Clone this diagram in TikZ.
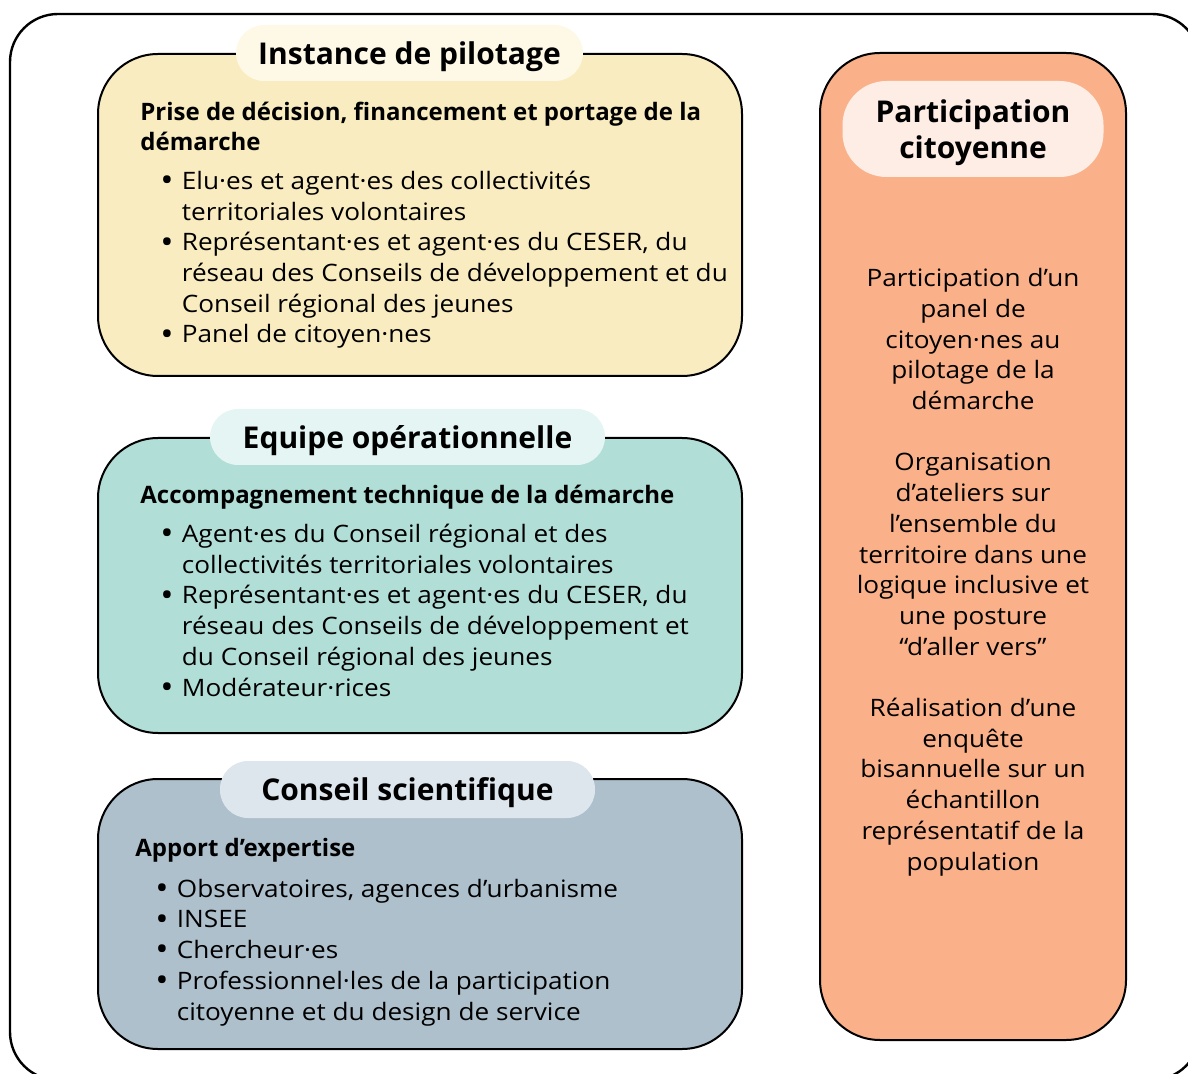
\documentclass[tikz,border=0pt]{standalone}
\usepackage{fontspec}
\setmainfont{Open Sans}[FakeStretch=1.09, BoldFeatures={FakeStretch=1.0}]
\usetikzlibrary{positioning}

\definecolor{pilotfond}{RGB}{249,236,192}
\definecolor{pilotclair}{RGB}{254,249,230}
\definecolor{equipefond}{RGB}{178,222,216}
\definecolor{equipeclair}{RGB}{228,245,244}
\definecolor{conseilfond}{RGB}{174,192,204}
\definecolor{conseilclair}{RGB}{221,230,237}
\definecolor{partfond}{RGB}{250,177,137}
\definecolor{partclair}{RGB}{253,237,229}

% puces faites main pour garder les coupures de lignes
\newcommand{\puce}{\hspace*{10pt}\makebox[10.75pt][l]{\raisebox{-1.1pt}{\scalebox{1.35}{\textbullet}}}}
\newcommand{\suite}{\hspace*{20.75pt}}

\tikzset{
  bloc/.style={draw=black, line width=1pt, rounded corners=30pt, inner sep=0pt},
  pastille/.style={rounded corners=14pt, inner sep=0pt, text depth=0pt, font=\bfseries\fontsize{15}{17.7}\selectfont},
  corps/.style={anchor=base west, align=left, inner sep=0pt, font=\fontsize{12}{15.35}\selectfont},
}

\begin{document}
\begin{tikzpicture}[x=0.5pt, y=-0.5pt]
 \useasboundingbox (0,0) rectangle (1188,1074);
 \draw[line width=1.2pt, rounded corners=24pt] (10,14) rectangle (1200,1080);

 % colonne de gauche
 \node[bloc, fill=pilotfond, minimum width=322pt, minimum height=161pt] (pilot) at (420,215) {};
 \node[bloc, fill=equipefond, minimum width=322pt, minimum height=147.5pt, below=30pt of pilot] (equipe) {};
 \node[bloc, fill=conseilfond, minimum width=322pt, minimum height=135pt, below=22pt of equipe] (conseil) {};
 % colonne de droite
 \node[bloc, fill=partfond, minimum width=153pt, minimum height=493.5pt] (part) at (973,546.5) {};

 \node[pastille, fill=pilotclair, minimum width=173.5pt, minimum height=28pt] (tpilot) at ([xshift=-5.25pt]pilot.north) {Instance de pilotage};
 \node[pastille, fill=equipeclair, minimum width=197.5pt, minimum height=28pt] (tequipe) at ([xshift=-6.25pt]equipe.north) {Equipe opérationnelle};
 \node[pastille, fill=conseilclair, minimum width=187.5pt, minimum height=28.5pt] (tconseil) at ([xshift=-6.25pt, yshift=-5.75pt]conseil.north) {Conseil scientifique};
 \node[pastille, fill=partclair, minimum width=130.5pt, minimum height=48pt, rounded corners=22pt, align=center] (tpart) at ([yshift=-38.5pt]part.north) {Participation\\citoyenne};

 % les noeuds de texte sont calés sur la ligne de base de leur derniere ligne
 \node[corps] (cpilot) at (140,343) {%
  \textbf{Prise de décision, financement et portage de la}\\
  \textbf{démarche}\\[4pt]
  \puce Elu·es et agent·es des collectivités\\
  \suite territoriales volontaires\\
  \puce Représentant·es et agent·es du CESER, du\\
  \suite réseau des Conseils de développement et du\\
  \suite Conseil régional des jeunes\\
  \puce Panel de citoyen·nes};

 \node[corps] (cequipe) at (140,696) {%
  \textbf{Accompagnement technique de la démarche}\\[4pt]
  \puce Agent·es du Conseil régional et des\\
  \suite collectivités territoriales volontaires\\
  \puce Représentant·es et agent·es du CESER, du\\
  \suite réseau des Conseils de développement et\\
  \suite du Conseil régional des jeunes\\
  \puce Modérateur·rices};

 \node[corps] (cconseil) at (135,1020) {%
  \textbf{Apport d’expertise}\\[5pt]
  \puce Observatoires, agences d’urbanisme\\
  \puce INSEE\\
  \puce Chercheur·es\\
  \puce Professionnel·les de la participation\\
  \suite citoyenne et du design de service};

 \node[corps, anchor=base, align=center] (cpart) at (973,870) {%
  Participation d’un\\ panel de\\ citoyen·nes au\\ pilotage de la\\ démarche\\[15.35pt]
  Organisation\\ d’ateliers sur\\ l’ensemble du\\ territoire dans une\\ logique inclusive et\\ une posture\\ “d’aller vers”\\[15.35pt]
  Réalisation d’une\\ enquête\\ bisannuelle sur un\\ échantillon\\ représentatif de la\\ population};
\end{tikzpicture}
\end{document}
